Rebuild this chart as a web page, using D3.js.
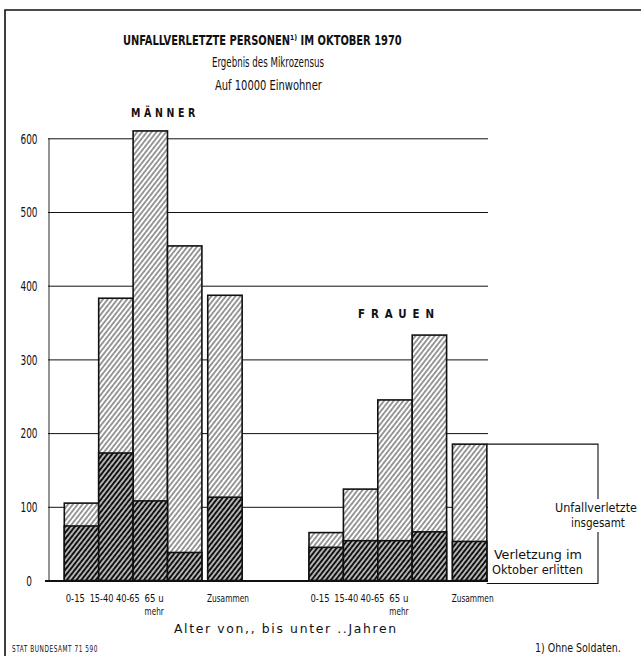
<!DOCTYPE html>
<html>
<head>
<meta charset="utf-8">
<script src="https://cdn.jsdelivr.net/npm/d3@7"></script>
<style>
  body { margin: 0; background: #fff; }
  text { font-family: "Liberation Sans Narrow", "DejaVu Sans Condensed", "Liberation Sans", sans-serif; fill: #111; }
</style>
</head>
<body>
<div id="chart"></div>
<script>
// values, per 10000 inhabitants
const ageGroups = ["0-15", "15-40", "40-65", "65 u|mehr", "Zusammen"]
const menTotal = [105, 383, 610, 454, 387]
const menOctober = [74, 173, 108, 38, 113]
const womenTotal = [65, 124, 245, 333, 185]
const womenOctober = [45, 54, 54, 66, 53]
const yTicks = [0, 100, 200, 300, 400, 500, 600]

const W = 641, H = 656
const gc = {
    line: '#111',
    barStroke: 1.6,
    slot: 34.4,
    sumGap: 0.17,
    labelStep: 26.3,
    charWidth: 4.8
}

const svg = d3.select('#chart').append('svg')
    .attr('width', W)
    .attr('height', H)

// squeeze a text horizontally round its anchor so it gets the wanted width
function fit(t, width) {
    const natural = t.node().getComputedTextLength()
    if (natural > 0) {
        const k = width / natural
        const x = +t.attr('x')
        t.attr('transform', 'translate(' + x + ',0) scale(' + k.toFixed(3) + ',1) translate(' + (-x) + ',0)')
    }
    return t
}

// hatch patterns
const defs = svg.append('defs')
function hatch(id, step, width, angle) {
    defs.append('pattern')
        .attr('id', id)
        .attr('patternUnits', 'userSpaceOnUse')
        .attr('width', step)
        .attr('height', step)
        .attr('patternTransform', 'rotate(' + angle + ')')
        .call(p => p.append('rect').attr('width', step).attr('height', step).attr('fill', '#fff'))
        .append('line')
        .attr('x1', step / 2).attr('y1', 0)
        .attr('x2', step / 2).attr('y2', step)
        .attr('stroke', '#111')
        .attr('stroke-width', width)
}
hatch('light', 3.8, 0.85, 38)
hatch('dark', 3.8, 2.5, 38)

// frame
svg.append('path')
    .attr('d', 'M5,' + H + ' V10 H' + W)
    .attr('fill', 'none')
    .attr('stroke', gc.line)
    .attr('stroke-width', 1.6)

const y = d3.scaleLinear().domain([0, 600]).range([580.5, 138.3])
const groupX = d3.scaleOrdinal().domain(['MÄNNER', 'FRAUEN']).range([64.3, 309])
const slotX = d3.scaleLinear().domain([0, 1]).range([0, gc.slot])
const labelX = d3.scaleLinear().domain([0, 1]).range([0, gc.labelStep])
const slotIndex = (i) => i < 4 ? i : i + gc.sumGap

// grid and y labels through an axis
const axis = d3.axisLeft(y)
    .tickValues(yTicks)
    .tickSize(0)
    .tickPadding(0)
const ga = svg.append('g')
    .attr('transform', 'translate(48,0)')
    .call(axis)
ga.select('.domain').remove()
ga.selectAll('.tick line')
    .attr('stroke', gc.line)
    .attr('stroke-width', d => d === 0 ? 1.8 : 1)
    .attr('x1', d => d === 0 ? -3 : 0)
    .attr('x2', 440)
ga.selectAll('.tick text')
    .attr('x', -19)
    .attr('dy', '0.36em')
    .attr('text-anchor', 'middle')
    .style('font-size', '13.5px')
    .style('font-family', null)
    .each(function (d) { fit(d3.select(this), String(d).length * 5.7) })

// vertical axis line
svg.append('line')
    .attr('x1', 49).attr('x2', 49)
    .attr('y1', y(600)).attr('y2', y(0))
    .attr('stroke', gc.line)
    .attr('stroke-width', 0.9)

function drawGroup(name, totals, october) {
    const x0 = groupX(name)
    const g = svg.append('g').attr('transform', 'translate(' + x0 + ',0)')
    const rows = ageGroups.map((a, i) => ({ label: a, total: totals[i], oct: october[i], x: slotX(slotIndex(i)) }))

    g.selectAll('rect.total').data(rows).join('rect')
        .attr('class', 'total')
        .attr('x', d => d.x)
        .attr('y', d => y(d.total))
        .attr('width', gc.slot)
        .attr('height', d => y(0) - y(d.total))
        .attr('fill', 'url(#light)')
        .attr('stroke', gc.line)
        .attr('stroke-width', gc.barStroke)

    g.selectAll('rect.oct').data(rows).join('rect')
        .attr('class', 'oct')
        .attr('x', d => d.x)
        .attr('y', d => y(d.oct))
        .attr('width', gc.slot)
        .attr('height', d => y(0) - y(d.oct))
        .attr('fill', 'url(#dark)')
        .attr('stroke', gc.line)
        .attr('stroke-width', gc.barStroke)

    // category labels, one text per line
    rows.forEach((d, i) => {
        const cx = i < 4 ? 11 + labelX(i) : d.x + gc.slot / 2 + 3
        d.label.split('|').forEach((p, k) => {
            const t = g.append('text')
                .attr('class', 'cat')
                .attr('text-anchor', 'middle')
                .attr('x', cx)
                .attr('y', 602 + k * 13)
                .style('font-size', '11px')
                .text(p)
            fit(t, p === 'Zusammen' ? 42 : p.length * gc.charWidth)
        })
    })
    return rows
}

drawGroup('MÄNNER', menTotal, menOctober)
const women = drawGroup('FRAUEN', womenTotal, womenOctober)

// bracket legend from the women's total bar
const sum = women[4]
const bx0 = groupX('FRAUEN') + sum.x + gc.slot
const bx1 = 598
svg.append('path')
    .attr('d', 'M' + bx0 + ',' + y(sum.total) + ' H' + bx1 + ' V499 M' + bx1 + ',532 V' + (y(0) + 3) + ' H' + bx0)
    .attr('fill', 'none')
    .attr('stroke', gc.line)
    .attr('stroke-width', 1.1)

function txt(str, x, yy, size, opts) {
    opts = opts || {}
    const t = svg.append('text')
        .attr('x', x)
        .attr('y', yy)
        .attr('text-anchor', opts.anchor || 'start')
        .style('font-size', size + 'px')
        .style('font-weight', opts.bold ? 'bold' : null)
        .style('letter-spacing', opts.spacing ? opts.spacing + 'px' : null)
        .text(str)
    if (opts.len) fit(t, opts.len)
    return t
}

// titles
txt('UNFALLVERLETZTE PERSONEN\u00b9\u207e IM OKTOBER 1970', 123, 45, 14.5, { bold: true, len: 279 })
txt('Ergebnis des Mikrozensus', 212, 67, 13.5, { len: 112 })
txt('Auf 10000 Einwohner', 215, 90, 13.5, { len: 107 })
txt('MÄNNER', 131, 117, 11.5, { bold: true, spacing: 4, len: 68 })
txt('FRAUEN', 358, 318, 11.5, { bold: true, spacing: 6, len: 82 })

// axis title and legend
txt('Alter von,, bis unter ..Jahren', 174, 633, 12.5, { spacing: 1.5, len: 224 })
txt('Unfallverletzte', 637, 512, 12.5, { anchor: 'end', len: 82 })
txt('insgesamt', 598, 527, 12.5, { anchor: 'middle', len: 54 })
txt('Verletzung im', 494, 559, 12.5, { len: 88 })
txt('Oktober erlitten', 492, 574, 12.5, { len: 91 })

// footer
txt('STAT BUNDESAMT 71 590', 12, 652, 9.5, { spacing: 0.8, len: 86 })
txt('1) Ohne Soldaten.', 535, 652, 11.5, { len: 86 })
</script>
</body>
</html>
